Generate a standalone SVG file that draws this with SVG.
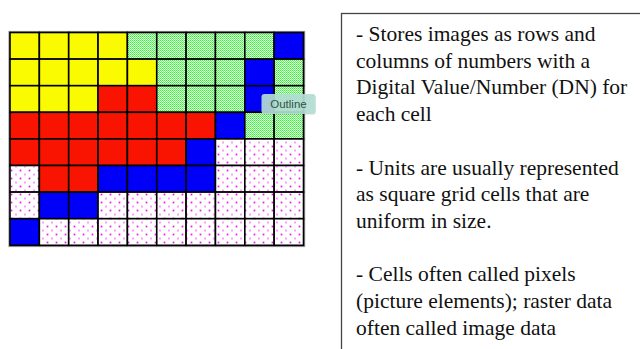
<svg xmlns="http://www.w3.org/2000/svg" width="640" height="349" viewBox="0 0 640 349">
<defs>
<pattern id="pg" width="2" height="2" patternUnits="userSpaceOnUse">
<rect width="2" height="2" fill="#ffffff"/>
<rect width="1" height="1" fill="#33f033"/>
<rect x="1" y="1" width="1" height="1" fill="#66fa66"/>
<rect x="1" y="0" width="1" height="1" fill="#c8ffc8"/>
</pattern>
<pattern id="pp" width="9" height="8" patternUnits="userSpaceOnUse">
<rect width="9" height="8" fill="#ffffff"/>
<rect x="1.5" y="1.5" width="2" height="2" fill="#f56cf5"/>
<rect x="2" y="2" width="1" height="1" fill="#ee00ee"/>
<rect x="6" y="5.5" width="2" height="2" fill="#f9a0f9"/>
</pattern>
</defs>
<style>
.c{stroke:#000;stroke-width:1.6}
.Y{fill:#fafa00}
.R{fill:#f81400}
.B{fill:#0000f8}
.G{fill:url(#pg)}
.P{fill:url(#pp)}
.t{font-family:"Liberation Serif","Times New Roman",serif;font-size:21.5px;fill:#111}
</style>
<rect width="640" height="349" fill="#ffffff"/>
<g id="raster-grid">
<rect x="9.2" y="31.7" width="295.2" height="214.6" fill="none" stroke="#9a9a9a" stroke-width="1.6"/>
<g id="row0">
<rect class="c Y" x="10" y="32.5" width="29.35" height="26.6"/>
<rect class="c Y" x="39.35" y="32.5" width="29.35" height="26.6"/>
<rect class="c Y" x="68.7" y="32.5" width="29.35" height="26.6"/>
<rect class="c Y" x="98.05" y="32.5" width="29.35" height="26.6"/>
<rect class="c G" x="127.4" y="32.5" width="29.35" height="26.6"/>
<rect class="c G" x="156.75" y="32.5" width="29.35" height="26.6"/>
<rect class="c G" x="186.1" y="32.5" width="29.35" height="26.6"/>
<rect class="c G" x="215.45" y="32.5" width="29.35" height="26.6"/>
<rect class="c G" x="244.8" y="32.5" width="29.35" height="26.6"/>
<rect class="c B" x="274.15" y="32.5" width="29.35" height="26.6"/>
</g>
<g id="row1">
<rect class="c Y" x="10" y="59.1" width="29.35" height="26.6"/>
<rect class="c Y" x="39.35" y="59.1" width="29.35" height="26.6"/>
<rect class="c Y" x="68.7" y="59.1" width="29.35" height="26.6"/>
<rect class="c Y" x="98.05" y="59.1" width="29.35" height="26.6"/>
<rect class="c Y" x="127.4" y="59.1" width="29.35" height="26.6"/>
<rect class="c G" x="156.75" y="59.1" width="29.35" height="26.6"/>
<rect class="c G" x="186.1" y="59.1" width="29.35" height="26.6"/>
<rect class="c G" x="215.45" y="59.1" width="29.35" height="26.6"/>
<rect class="c B" x="244.8" y="59.1" width="29.35" height="26.6"/>
<rect class="c G" x="274.15" y="59.1" width="29.35" height="26.6"/>
</g>
<g id="row2">
<rect class="c Y" x="10" y="85.7" width="29.35" height="26.6"/>
<rect class="c Y" x="39.35" y="85.7" width="29.35" height="26.6"/>
<rect class="c Y" x="68.7" y="85.7" width="29.35" height="26.6"/>
<rect class="c R" x="98.05" y="85.7" width="29.35" height="26.6"/>
<rect class="c R" x="127.4" y="85.7" width="29.35" height="26.6"/>
<rect class="c G" x="156.75" y="85.7" width="29.35" height="26.6"/>
<rect class="c G" x="186.1" y="85.7" width="29.35" height="26.6"/>
<rect class="c G" x="215.45" y="85.7" width="29.35" height="26.6"/>
<rect class="c B" x="244.8" y="85.7" width="29.35" height="26.6"/>
<rect class="c G" x="274.15" y="85.7" width="29.35" height="26.6"/>
</g>
<g id="row3">
<rect class="c R" x="10" y="112.3" width="29.35" height="26.6"/>
<rect class="c R" x="39.35" y="112.3" width="29.35" height="26.6"/>
<rect class="c R" x="68.7" y="112.3" width="29.35" height="26.6"/>
<rect class="c R" x="98.05" y="112.3" width="29.35" height="26.6"/>
<rect class="c R" x="127.4" y="112.3" width="29.35" height="26.6"/>
<rect class="c R" x="156.75" y="112.3" width="29.35" height="26.6"/>
<rect class="c R" x="186.1" y="112.3" width="29.35" height="26.6"/>
<rect class="c B" x="215.45" y="112.3" width="29.35" height="26.6"/>
<rect class="c G" x="244.8" y="112.3" width="29.35" height="26.6"/>
<rect class="c G" x="274.15" y="112.3" width="29.35" height="26.6"/>
</g>
<g id="row4">
<rect class="c R" x="10" y="138.9" width="29.35" height="26.6"/>
<rect class="c R" x="39.35" y="138.9" width="29.35" height="26.6"/>
<rect class="c R" x="68.7" y="138.9" width="29.35" height="26.6"/>
<rect class="c R" x="98.05" y="138.9" width="29.35" height="26.6"/>
<rect class="c R" x="127.4" y="138.9" width="29.35" height="26.6"/>
<rect class="c R" x="156.75" y="138.9" width="29.35" height="26.6"/>
<rect class="c B" x="186.1" y="138.9" width="29.35" height="26.6"/>
<rect class="c P" x="215.45" y="138.9" width="29.35" height="26.6"/>
<rect class="c P" x="244.8" y="138.9" width="29.35" height="26.6"/>
<rect class="c P" x="274.15" y="138.9" width="29.35" height="26.6"/>
</g>
<g id="row5">
<rect class="c P" x="10" y="165.5" width="29.35" height="26.6"/>
<rect class="c R" x="39.35" y="165.5" width="29.35" height="26.6"/>
<rect class="c R" x="68.7" y="165.5" width="29.35" height="26.6"/>
<rect class="c B" x="98.05" y="165.5" width="29.35" height="26.6"/>
<rect class="c B" x="127.4" y="165.5" width="29.35" height="26.6"/>
<rect class="c B" x="156.75" y="165.5" width="29.35" height="26.6"/>
<rect class="c B" x="186.1" y="165.5" width="29.35" height="26.6"/>
<rect class="c P" x="215.45" y="165.5" width="29.35" height="26.6"/>
<rect class="c P" x="244.8" y="165.5" width="29.35" height="26.6"/>
<rect class="c P" x="274.15" y="165.5" width="29.35" height="26.6"/>
</g>
<g id="row6">
<rect class="c P" x="10" y="192.1" width="29.35" height="26.6"/>
<rect class="c B" x="39.35" y="192.1" width="29.35" height="26.6"/>
<rect class="c B" x="68.7" y="192.1" width="29.35" height="26.6"/>
<rect class="c P" x="98.05" y="192.1" width="29.35" height="26.6"/>
<rect class="c P" x="127.4" y="192.1" width="29.35" height="26.6"/>
<rect class="c P" x="156.75" y="192.1" width="29.35" height="26.6"/>
<rect class="c P" x="186.1" y="192.1" width="29.35" height="26.6"/>
<rect class="c P" x="215.45" y="192.1" width="29.35" height="26.6"/>
<rect class="c P" x="244.8" y="192.1" width="29.35" height="26.6"/>
<rect class="c P" x="274.15" y="192.1" width="29.35" height="26.6"/>
</g>
<g id="row7">
<rect class="c B" x="10" y="218.7" width="29.35" height="26.6"/>
<rect class="c P" x="39.35" y="218.7" width="29.35" height="26.6"/>
<rect class="c P" x="68.7" y="218.7" width="29.35" height="26.6"/>
<rect class="c P" x="98.05" y="218.7" width="29.35" height="26.6"/>
<rect class="c P" x="127.4" y="218.7" width="29.35" height="26.6"/>
<rect class="c P" x="156.75" y="218.7" width="29.35" height="26.6"/>
<rect class="c P" x="186.1" y="218.7" width="29.35" height="26.6"/>
<rect class="c P" x="215.45" y="218.7" width="29.35" height="26.6"/>
<rect class="c P" x="244.8" y="218.7" width="29.35" height="26.6"/>
<rect class="c P" x="274.15" y="218.7" width="29.35" height="26.6"/>
</g>
</g>
<g id="outline-tooltip">
<rect x="262" y="95" width="54" height="20" rx="3" fill="#000" opacity="0.08"/>
<rect x="261.5" y="94" width="54" height="20" rx="3" fill="#b3ddd3" fill-opacity="0.92"/>
<text x="288.5" y="108.2" text-anchor="middle" font-family="'Liberation Sans',Arial,sans-serif" font-size="11.5" fill="#35504c">Outline</text>
</g>
<g id="text-box">
<rect x="341.5" y="13.5" width="320" height="350" fill="#ffffff" stroke="#444" stroke-width="1.3"/>
<text class="t" x="356" y="41">- Stores images as rows and</text>
<text class="t" x="356" y="67.7">columns of numbers with a</text>
<text class="t" x="356" y="94.4">Digital Value/Number (DN) for</text>
<text class="t" x="356" y="121">each cell</text>
<text class="t" x="356" y="174.5">- Units are usually represented</text>
<text class="t" x="356" y="201.2">as square grid cells that are</text>
<text class="t" x="356" y="227.9">uniform in size.</text>
<text class="t" x="356" y="281.3">- Cells often called pixels</text>
<text class="t" x="356" y="308">(picture elements); raster data</text>
<text class="t" x="356" y="334.7">often called image data</text>
</g>
</svg>
